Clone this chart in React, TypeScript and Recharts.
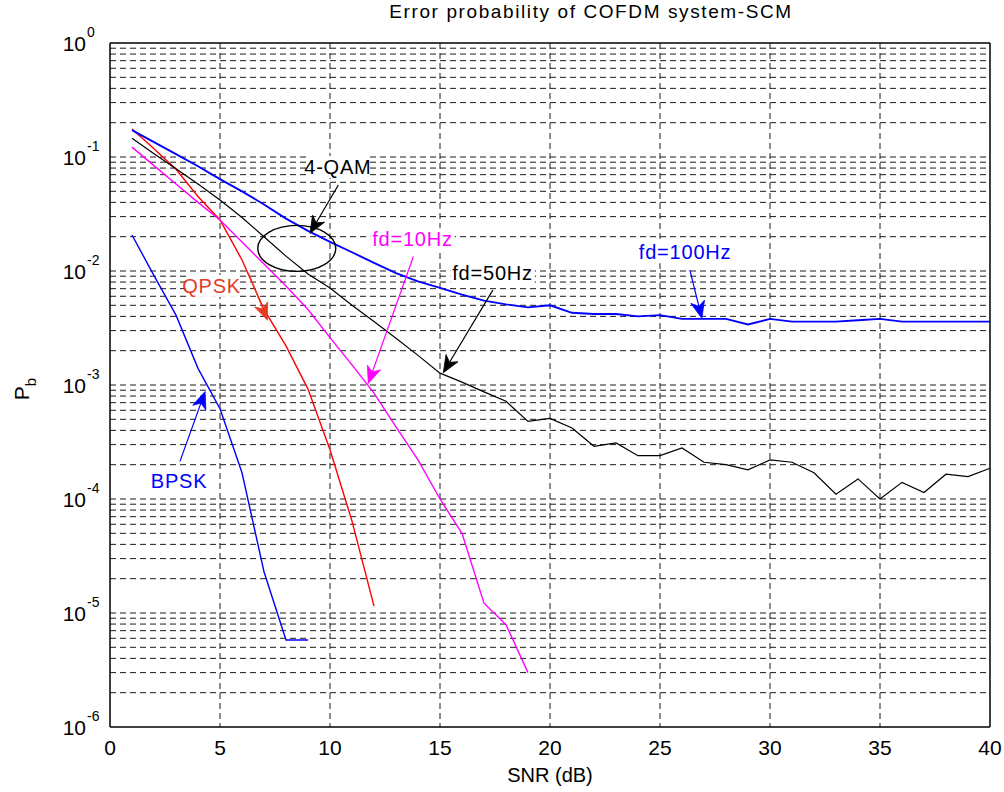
import { LineChart, Line, XAxis, YAxis, CartesianGrid, ReferenceLine, ReferenceDot } from 'recharts';

// SNR (dB) sample points
const snr = [
  1, 2, 3, 4, 5, 6, 7, 8, 9, 10, 11, 12, 13, 14, 15, 16, 17, 18, 19, 20,
  21, 22, 23, 24, 25, 26, 27, 28, 29, 30, 31, 32, 33, 34, 35, 36, 37, 38, 39, 40,
];

// bit error probability per curve
const bpsk = [0.0207, 0.0091, 0.0041, 0.0014, 0.00062, 0.00017, 0.000023, 0.0000058, 0.0000058];
const qpsk = [0.176, 0.118, 0.078, 0.045, 0.028, 0.0125, 0.0046, 0.0022, 0.00092, 0.00027, 0.000064, 0.0000115];
const fd10 = [
  0.122, 0.084, 0.058, 0.04, 0.028, 0.018, 0.0115, 0.0074, 0.0046, 0.0026,
  0.0015, 0.00085, 0.00043, 0.00022, 0.0001, 0.00005, 0.0000122, 0.0000079, 0.000003,
];
const fd50 = [
  0.146, 0.107, 0.079, 0.058, 0.042, 0.0295, 0.02, 0.0135, 0.0094, 0.0071,
  0.005, 0.0036, 0.00257, 0.00182, 0.00127, 0.00106, 0.00087, 0.00072, 0.00048, 0.00051,
  0.00042, 0.00029, 0.00031, 0.00024, 0.00024, 0.00028, 0.00021, 0.0002, 0.00018, 0.00022,
  0.00021, 0.00017, 0.00011, 0.00015, 0.0001, 0.00014, 0.000114, 0.000165, 0.000157, 0.000186,
];
const fd100 = [
  0.172, 0.135, 0.106, 0.083, 0.064, 0.05, 0.0383, 0.0288, 0.0225, 0.018,
  0.0146, 0.0118, 0.0096, 0.0081, 0.0071, 0.0062, 0.0055, 0.0051, 0.0048, 0.005,
  0.0043, 0.0042, 0.0042, 0.004, 0.0041, 0.0038, 0.0038, 0.0038, 0.0034, 0.0038,
  0.0036, 0.0036, 0.0036, 0.0037, 0.0038, 0.0036, 0.0036, 0.0036, 0.0036, 0.0036,
];

const xTicks = [0, 5, 10, 15, 20, 25, 30, 35, 40];
const yTicks = [1e-6, 1e-5, 1e-4, 1e-3, 1e-2, 1e-1, 1];

const rows = snr.map((x, i) => ({
  snr: x,
  bpsk: bpsk[i],
  qpsk: qpsk[i],
  fd10: fd10[i],
  fd50: fd50[i],
  fd100: fd100[i],
}));

// log grid: 1..9 x each decade (box edges excluded)
const yGrid = yTicks
  .slice(0, -1)
  .flatMap((d) => [1, 2, 3, 4, 5, 6, 7, 8, 9].map((m) => m * d))
  .slice(1);
const xGrid = xTicks.slice(1, -1);

const FONT = '"Liberation Sans", Arial, sans-serif';
const QPSK_RED = '#e63a1f';
const GRID = '#1a1a1a';

// annotations: [x, y] in data units
const notes = [
  { text: '4-QAM', at: [10.36, 0.0817], color: '#000' },
  { text: 'QPSK', at: [4.62, 0.0074], color: QPSK_RED },
  { text: 'fd=10Hz', at: [13.75, 0.019], color: '#ff00ff' },
  { text: 'fd=50Hz', at: [17.39, 0.0097], color: '#000' },
  { text: 'fd=100Hz', at: [26.14, 0.0146], color: '#0000ff' },
  { text: 'BPSK', at: [3.14, 0.000143], color: '#0000ff' },
];

const arrows = [
  { from: [10.38, 0.0568], to: [9.09, 0.0214], color: '#000' },
  { from: [6.29, 0.0096], to: [7.16, 0.0037], color: QPSK_RED },
  { from: [13.79, 0.0134], to: [11.74, 0.00103], color: '#ff00ff' },
  { from: [17.4, 0.0068], to: [15.15, 0.00128], color: '#000' },
  { from: [26.36, 0.0102], to: [26.9, 0.00385], color: '#0000ff' },
  { from: [3.18, 0.000214], to: [4.32, 0.000875], color: '#0000ff' },
];

const arrowShape = (color: string) => (p: any) => {
  const { x1, y1, x2, y2 } = p;
  const dx = x2 - x1;
  const dy = y2 - y1;
  const len = Math.hypot(dx, dy) || 1;
  const ux = dx / len;
  const uy = dy / len;
  const hl = 17;
  const hw = 7;
  const bx = x2 - ux * hl;
  const by = y2 - uy * hl;
  const nx = x2 - ux * hl * 0.72;
  const ny = y2 - uy * hl * 0.72;
  const pts = `${x2},${y2} ${bx - uy * hw},${by + ux * hw} ${nx},${ny} ${bx + uy * hw},${by - ux * hw}`;
  return (
    <g>
      <line x1={x1} y1={y1} x2={nx} y2={ny} stroke={color} strokeWidth={1.2} />
      <polygon points={pts} fill={color} stroke={color} strokeWidth={0.8} />
    </g>
  );
};

// text with a white box behind it, like the figure's annotations
const textShape = (text: string, color: string) => (p: any) => {
  const w = text.length * 11.5 + 4;
  return (
    <g>
      <rect x={p.cx - w / 2} y={p.cy - 11} width={w} height={22} fill="#fff" />
      <text
        x={p.cx}
        y={p.cy}
        textAnchor="middle"
        dominantBaseline="central"
        fontSize={20}
        letterSpacing={0.8}
        fontFamily={FONT}
        fill={color}
      >
        {text}
      </text>
    </g>
  );
};

const ellipseShape = (p: any) => (
  <ellipse cx={p.cx} cy={p.cy} rx={39} ry={23} fill="none" stroke="#000" strokeWidth={1.4} />
);

function YTick({ x, y, payload }: any) {
  const exp = Math.round(Math.log10(payload.value));
  return (
    <g fontFamily={FONT} fill="#000">
      <text x={x - 24} y={y + 8} textAnchor="end" fontSize={21}>
        10
      </text>
      <text x={x - 23} y={y - 6} fontSize={14}>
        {exp}
      </text>
    </g>
  );
}

function XTick({ x, y, payload }: any) {
  return (
    <text x={x} y={y + 28} textAnchor="middle" fontSize={21} fontFamily={FONT} fill="#000">
      {payload.value}
    </text>
  );
}

export default function App() {
  return (
    <div style={{ position: 'absolute', left: 0, top: 0, width: 1004, height: 792, background: '#fff' }}>
      <div
        style={{
          position: 'absolute',
          left: 0,
          top: 1,
          width: 1182,
          textAlign: 'center',
          fontFamily: FONT,
          fontSize: 19,
          letterSpacing: 1.6,
          color: '#000',
        }}
      >
        Error probability of COFDM system-SCM
      </div>
      <LineChart width={1004} height={792} data={rows} margin={{ top: 43, right: 14, bottom: 15, left: 50 }}>
        <CartesianGrid horizontal={false} verticalValues={xGrid} stroke={GRID} strokeDasharray="6 4" strokeWidth={1} />
        <XAxis
          dataKey="snr"
          type="number"
          domain={[0, 40]}
          ticks={xTicks}
          height={50}
          tickSize={0}
          tickMargin={0}
          tickLine={false}
          axisLine={false}
          tick={<XTick />}
          label={{
            content: (props: any) => {
              const vb = props.viewBox;
              return (
                <text x={vb.x + vb.width / 2} y={vb.y + 55} textAnchor="middle" fontSize={20} fontFamily={FONT} fill="#000">
                  SNR (dB)
                </text>
              );
            },
          }}
        />
        <YAxis
          type="number"
          scale="log"
          domain={[1e-6, 1]}
          allowDataOverflow
          ticks={yTicks}
          width={60}
          tickSize={0}
          tickMargin={0}
          tickLine={false}
          axisLine={false}
          tick={<YTick />}
          label={{
            content: (props: any) => {
              const vb = props.viewBox;
              const cx = vb.x - 21;
              const cy = vb.y + vb.height / 2 + 4;
              return (
                <text transform={`translate(${cx},${cy}) rotate(-90)`} textAnchor="middle" fontSize={21} fontFamily={FONT} fill="#000">
                  P<tspan dy={7} fontSize={15}>b</tspan>
                </text>
              );
            },
          }}
        />

        {yGrid.map((v) => (
          <ReferenceLine key={`g-${v}`} y={v} stroke={GRID} strokeDasharray="6 4" strokeWidth={1} />
        ))}

        <Line dataKey="bpsk" stroke="#0000ff" strokeWidth={1.4} dot={false} isAnimationActive={false} />
        <Line dataKey="qpsk" stroke="#ff0000" strokeWidth={1.4} dot={false} isAnimationActive={false} />
        <Line dataKey="fd10" stroke="#ff00ff" strokeWidth={1.4} dot={false} isAnimationActive={false} />
        <Line dataKey="fd50" stroke="#000000" strokeWidth={1.2} dot={false} isAnimationActive={false} />
        <Line dataKey="fd100" stroke="#0000ff" strokeWidth={1.9} dot={false} isAnimationActive={false} />

        {/* axes box */}
        <ReferenceLine x={0} stroke="#000" strokeWidth={1.5} />
        <ReferenceLine x={40} stroke="#000" strokeWidth={1.5} />
        <ReferenceLine y={1} stroke="#000" strokeWidth={1.5} />
        <ReferenceLine y={1e-6} stroke="#000" strokeWidth={1.5} />

        <ReferenceDot x={8.49} y={0.0158} r={1} shape={ellipseShape} ifOverflow="visible" />
        {notes.map((n) => (
          <ReferenceDot
            key={n.text}
            x={n.at[0]}
            y={n.at[1]}
            r={1}
            shape={textShape(n.text, n.color)}
            ifOverflow="visible"
          />
        ))}
        {arrows.map((a, i) => (
          <ReferenceLine
            key={`arrow-${i}`}
            segment={[
              { x: a.from[0], y: a.from[1] },
              { x: a.to[0], y: a.to[1] },
            ]}
            shape={arrowShape(a.color)}
            ifOverflow="visible"
          />
        ))}
      </LineChart>
    </div>
  );
}
